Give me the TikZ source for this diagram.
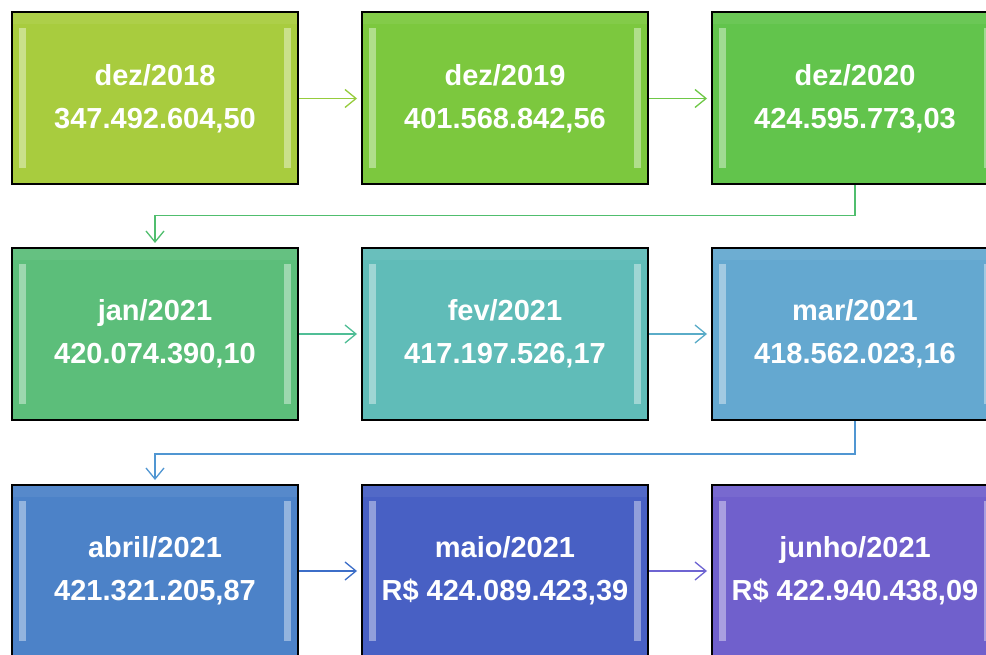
\documentclass[tikz,border=0pt]{standalone}
\usepackage{fontspec}
\setmainfont{Liberation Sans}
\usetikzlibrary{arrows.meta}
\definecolor{c1}{RGB}{168,204,62}
\definecolor{c2}{RGB}{124,200,62}
\definecolor{c3}{RGB}{98,196,76}
\definecolor{c4}{RGB}{92,190,122}
\definecolor{c5}{RGB}{96,188,184}
\definecolor{c6}{RGB}{100,168,208}
\definecolor{c7}{RGB}{76,130,200}
\definecolor{c8}{RGB}{72,96,196}
\definecolor{c9}{RGB}{112,96,204}
\definecolor{a1}{RGB}{150,204,60}
\definecolor{a2}{RGB}{110,200,70}
\definecolor{a3}{RGB}{80,190,110}
\definecolor{a4}{RGB}{80,190,150}
\definecolor{a5}{RGB}{90,172,200}
\definecolor{a6}{RGB}{80,150,210}
\definecolor{a7}{RGB}{60,110,200}
\definecolor{a8}{RGB}{110,100,210}
\tikzset{
  box/.style={draw=black, line width=2pt, minimum width=286pt, minimum height=172pt,
    text=white, align=center, inner sep=0pt,
    font=\fontsize{29}{43}\selectfont\bfseries,
    path picture={
      \fill[white,opacity=.4] ([shift={(7pt,-16pt)}]path picture bounding box.north west) rectangle ([shift={(14pt,16pt)}]path picture bounding box.south west);
      \fill[white,opacity=.4] ([shift={(-14pt,-16pt)}]path picture bounding box.north east) rectangle ([shift={(-7pt,16pt)}]path picture bounding box.south east);
      \fill[white,opacity=.06] (path picture bounding box.north west) rectangle ([shift={(0pt,-12pt)}]path picture bounding box.north east);
    }},
  conn/.style={line width=1.3pt, shorten >=4pt, -{Straight Barb[length=11pt,width=18pt,line width=1.3pt]}}
}
\begin{document}
\begin{tikzpicture}[x=1pt,y=-1pt]
\useasboundingbox (0,0) rectangle (986,655);
\clip (0,0) rectangle (986,655);
\fill[white] (0,0) rectangle (986,655);
\node[box, fill=c1] (b1) at (155,98.5) {dez/2018\\347.492.604,50};
\node[box, fill=c2] (b2) at (505,98.5) {dez/2019\\401.568.842,56};
\node[box, fill=c3] (b3) at (855,98.5) {dez/2020\\424.595.773,03};
\node[box, fill=c4] (b4) at (155,334) {jan/2021\\420.074.390,10};
\node[box, fill=c5] (b5) at (505,334) {fev/2021\\417.197.526,17};
\node[box, fill=c6] (b6) at (855,334) {mar/2021\\418.562.023,16};
\node[box, fill=c7] (b7) at (155,571) {abril/2021\\421.321.205,87};
\node[box, fill=c8] (b8) at (505,571) {maio/2021\\R\$ 424.089.423,39};
\node[box, fill=c9] (b9) at (855,571) {junho/2021\\R\$ 422.940.438,09};
\draw[conn, a1] (b1.east) -- (b2.west);
\draw[conn, a2] (b2.east) -- (b3.west);
\draw[conn, a3] (b3.south) -- ++(0,30) -| (b4.north);
\draw[conn, a4] (b4.east) -- (b5.west);
\draw[conn, a5] (b5.east) -- (b6.west);
\draw[conn, a6] (b6.south) -- ++(0,33) -| (b7.north);
\draw[conn, a7] (b7.east) -- (b8.west);
\draw[conn, a8] (b8.east) -- (b9.west);
\end{tikzpicture}
\end{document}
